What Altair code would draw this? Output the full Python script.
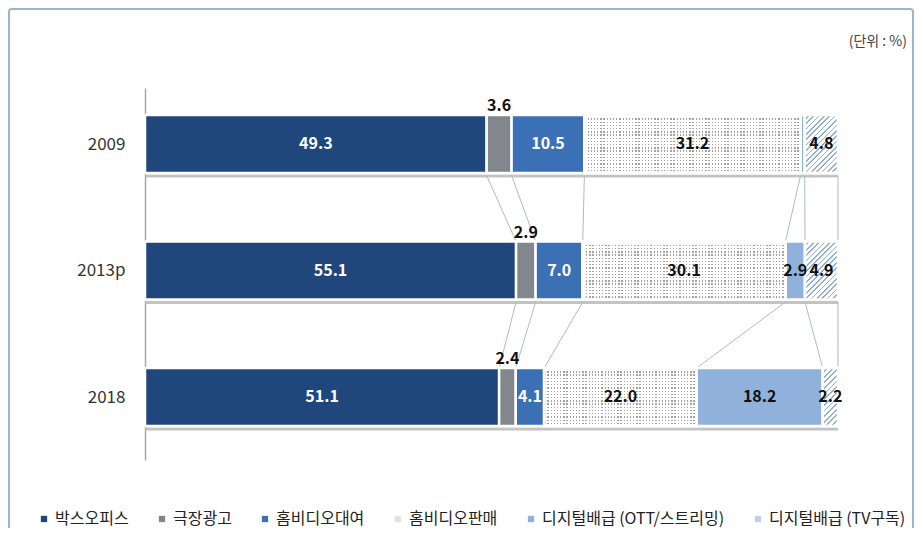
import altair as alt
import pandas as pd

# ---- data ----
years = ["2009", "2013p", "2018"]
categories = ["박스오피스", "극장광고", "홈비디오대여", "홈비디오판매",
              "디지털배급 (OTT/스트리밍)", "디지털배급 (TV구독)"]
values_2009 = [49.3, 3.6, 10.5, 31.2, 0.6, 4.8]
values_2013p = [55.1, 2.9, 7.0, 30.1, 2.9, 4.9]
values_2018 = [51.1, 2.4, 4.1, 22.0, 18.2, 2.2]
unit_text = "(단위 : %)"

colors = ["#1f477c", "#82878e", "#3b71b4", "#e2e2e2", "#8fb1dc", "#c3d1e6"]
label_colors = ["white", "#111111", "white", "#111111", "#111111", "#111111"]
above_category = "극장광고"
hatch_category = "디지털배급 (TV구독)"
dots_category = "홈비디오판매"
FONT = "Noto Sans CJK KR"
HALF = 0.229  # half bar thickness in row units

W = 693
H = 372
Y_DOMAIN = [-0.443, 2.498]
PX_PER_ROW = H / (Y_DOMAIN[1] - Y_DOMAIN[0])
BAR_PX = 2 * HALF * PX_PER_ROW

series = [values_2009, values_2013p, values_2018]

rows = []
cums = []
for r, vals in enumerate(series):
    total = sum(vals)
    c = 0.0
    cum = []
    for k, v in enumerate(vals):
        s = c / total * 100
        c += v
        e = c / total * 100
        cum.append(e)
        rows.append({
            "year": years[r], "row": r, "cat": categories[k], "value": v,
            "start": s, "end": e, "mid": (s + e) / 2,
            "ytop": r - HALF, "ybot": r + HALF,
            "lc": label_colors[k],
            "show": v >= 1.0,
        })
    cums.append(cum)
df = pd.DataFrame(rows)

conn = []
for r in range(len(series) - 1):
    for k in range(len(categories)):
        conn.append({"x": cums[r][k], "x2": cums[r + 1][k],
                     "y": r + HALF + 0.02, "y2": r + 1 - HALF})
conn_df = pd.DataFrame(conn)

shadow_df = pd.DataFrame({"row": list(range(len(years)))})
shadow_df["s0"] = 0
shadow_df["s1"] = 100
shadow_df["y"] = shadow_df["row"] + HALF + 0.012
shadow_df["y2"] = shadow_df["row"] + HALF + 0.035

xs = alt.Scale(domain=[0, 100], nice=False, zero=False)
ys = alt.Scale(domain=Y_DOMAIN, reverse=True, nice=False, zero=False)

label_expr = "[" + ",".join("'" + y + "'" for y in years) + "][datum.value]"
yaxis = alt.Axis(values=[0, 1, 2], labelExpr=label_expr, ticks=False,
                 grid=False, title=None, domainColor="#a6a6a6",
                 domainWidth=1.5, labelFont=FONT, labelFontSize=17,
                 labelColor="#333333", labelPadding=20)


def stripes(n, frac, c_on, c_off):
    st = []
    for i in range(n):
        st.append(alt.GradientStop(offset=i / n, color=c_on))
        st.append(alt.GradientStop(offset=(i + frac) / n, color=c_on))
        st.append(alt.GradientStop(offset=(i + frac) / n, color=c_off))
        st.append(alt.GradientStop(offset=(i + 1) / n, color=c_off))
    return st


def seg_layer(cat, r, fill):
    return alt.Chart(df).transform_filter(
        (alt.datum.cat == cat) & (alt.datum.row == r)
    ).mark_bar(stroke="white", strokeWidth=2.5, color=fill).encode(
        x=alt.X("start:Q", scale=xs, axis=None),
        x2="end:Q",
        y=alt.Y("ytop:Q", scale=ys, axis=yaxis),
        y2="ybot:Q",
    )


texture_layers = []
for _, d in df.iterrows():
    w = (d["end"] - d["start"]) / 100 * W
    h = BAR_PX
    if d["cat"] == hatch_category:
        ratio = w / h
        s = (1 + ratio) / (1 + ratio * ratio)
        period = 4.6
        n = max(2, round(h * s * s * (1 + ratio * ratio) / (1.4142 * period)))
        grad = alt.LinearGradient(gradient="linear", x1=0, y1=0, x2=s * ratio, y2=s,
                                  stops=stripes(n, 0.68, "#ffffff", "#94aed6"))
        texture_layers.append(seg_layer(d["cat"], d["row"], grad))
    elif d["cat"] == dots_category:
        nv = max(2, round(w / 3.2))
        nh = max(2, round(h / 3.2))
        vert = alt.LinearGradient(gradient="linear", x1=0, y1=0, x2=1, y2=0,
                                  stops=stripes(nv, 0.42, "#a2a2a2", "#ffffff"))
        mask = alt.LinearGradient(gradient="linear", x1=0, y1=0, x2=0, y2=1,
                                  stops=stripes(nh, 0.42, "rgba(255,255,255,0)", "#ffffff"))
        texture_layers.append(seg_layer(d["cat"], d["row"], vert))
        texture_layers.append(seg_layer(d["cat"], d["row"], mask))

shadow = alt.Chart(shadow_df).mark_bar(color="#b8b8b8", opacity=0.85).encode(
    x=alt.X("s0:Q", scale=xs, axis=None),
    x2="s1:Q",
    y=alt.Y("y:Q", scale=ys, axis=yaxis),
    y2="y2:Q",
)

connectors = alt.Chart(conn_df).mark_rule(color="#a9bbd3", strokeWidth=1).encode(
    x=alt.X("x:Q", scale=xs, axis=None),
    x2="x2:Q",
    y=alt.Y("y:Q", scale=ys, axis=yaxis),
    y2="y2:Q",
)

bars = alt.Chart(df).mark_bar(stroke="white", strokeWidth=2.5).encode(
    x=alt.X("start:Q", scale=xs, axis=None),
    x2="end:Q",
    y=alt.Y("ytop:Q", scale=ys, axis=yaxis),
    y2="ybot:Q",
    color=alt.Color("cat:N", scale=alt.Scale(domain=categories, range=colors),
                    legend=alt.Legend(orient="none", legendX=-109, legendY=423,
                                      direction="horizontal", title=None,
                                      symbolType="square", symbolSize=40,
                                      symbolStrokeWidth=0, labelFont=FONT,
                                      labelFontSize=16, labelColor="#222222",
                                      columnPadding=25, labelOffset=3,
                                      labelLimit=0)),
)

inside = alt.Chart(df).transform_filter(
    (alt.datum.cat != above_category) & alt.datum.show
).mark_text(font=FONT, fontSize=16, fontWeight="bold").encode(
    x=alt.X("mid:Q", scale=xs, axis=None),
    y=alt.Y("row:Q", scale=ys, axis=yaxis),
    text=alt.Text("value:Q", format=".1f"),
    color=alt.Color("lc:N", scale=None),
)

above = alt.Chart(df).transform_filter(
    alt.datum.cat == above_category
).mark_text(font=FONT, fontSize=16, fontWeight="bold", baseline="bottom", dy=-1,
            color="#111111").encode(
    x=alt.X("mid:Q", scale=xs, axis=None),
    y=alt.Y("ytop:Q", scale=ys, axis=yaxis),
    text=alt.Text("value:Q", format=".1f"),
)

unit = alt.Chart(pd.DataFrame({"t": [unit_text]})).mark_text(
    font=FONT, fontSize=14, color="#444444", align="right", baseline="middle"
).encode(x=alt.value(762), y=alt.value(-46), text="t:N")

border = alt.Chart(pd.DataFrame({"a": [0]})).mark_rect(
    fill="transparent", stroke="#9db4cd", strokeWidth=2, cornerRadius=3
).encode(x=alt.value(-136), x2=alt.value(768), y=alt.value(-79), y2=alt.value(470))

chart = alt.layer(border, shadow, connectors, bars, *texture_layers,
                  inside, above, unit).properties(
    width=W, height=H,
    padding={"left": 137, "top": 80, "right": 76, "bottom": 68},
    autosize=alt.AutoSizeParams(type="none"),
).configure_view(stroke=None)

chart.save("out.html", embed_options={"renderer": "svg", "actions": False})
